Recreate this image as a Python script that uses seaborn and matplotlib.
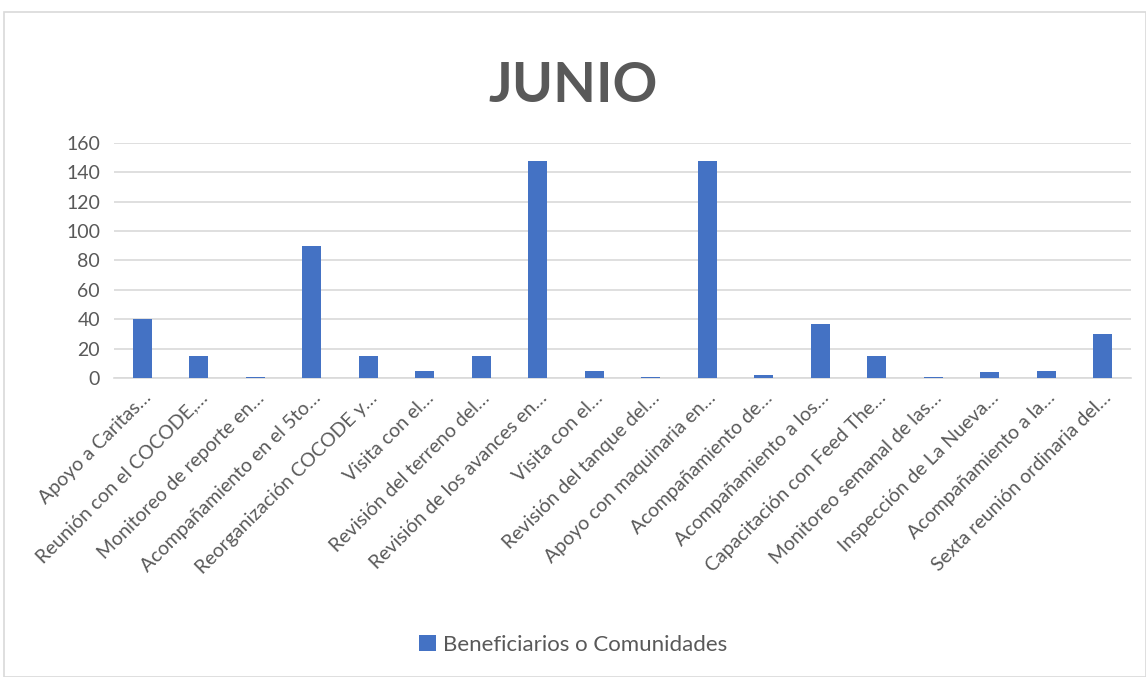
import matplotlib
matplotlib.use("Agg")
import matplotlib.pyplot as plt
import seaborn as sns
import pandas as pd
from matplotlib.patches import Patch

categories = [
    "Apoyo a Caritas…",
    "Reunión con el COCODE,…",
    "Monitoreo de reporte en…",
    "Acompañamiento en el 5to…",
    "Reorganización COCODE y…",
    "Visita con el…",
    "Revisión del terreno del…",
    "Revisión de los avances en…",
    "Visita con el…",
    "Revisión del tanque del…",
    "Apoyo con maquinaria en…",
    "Acompañamiento de…",
    "Acompañamiento a los…",
    "Capacitación con Feed The…",
    "Monitoreo semanal de las…",
    "Inspección de La Nueva…",
    "Acompañamiento a la…",
    "Sexta reunión ordinaria del…",
]
values = [40, 15, 1, 90, 15, 5, 15, 148, 5, 1, 148, 2, 37, 15, 1, 4, 5, 30]
series_name = "Beneficiarios o Comunidades"
title = "JUNIO"
yticks = [0, 20, 40, 60, 80, 100, 120, 140, 160]

sns.set_theme(style="white")
plt.rcParams['font.family'] = ['Lato', 'DejaVu Sans']

bar_color = "#4472C4"
text_color = "#595959"

df = pd.DataFrame({"pos": [str(i) for i in range(len(categories))], "val": values})

fig = plt.figure(figsize=(11.46, 6.77), dpi=100)
ax = fig.add_axes([114/1146, 1 - 378/677, (1131-114)/1146, (378-143)/677])

sns.barplot(data=df, x="pos", y="val", color=bar_color, width=0.34, ax=ax,
            saturation=1, linewidth=0, zorder=3)

ax.set_ylim(0, 160)
ax.set_yticks(yticks)
ax.set_xlim(-0.5, len(categories) - 0.5)
ax.yaxis.grid(True, color="#D9D9D9", linewidth=1.2, zorder=0)
ax.set_axisbelow(True)
for s in ["top", "right", "left"]:
    ax.spines[s].set_visible(False)
ax.spines["bottom"].set_color("#D9D9D9")
ax.spines["bottom"].set_linewidth(1.2)
ax.spines["bottom"].set_zorder(1)

ax.set_xticks(range(len(categories)))
ax.set_xticklabels(categories, rotation=45, ha="right", rotation_mode="anchor",
                   fontsize=14, color=text_color)
ax.tick_params(axis="x", length=0, pad=8)
ax.tick_params(axis="y", length=0, pad=10, labelsize=14, labelcolor=text_color)
ax.set_xlabel("")
ax.set_ylabel("")

fig.text(0.5, 1 - 86/677, title, ha="center", va="center", fontsize=40,
         fontweight="bold", color=text_color)

handles = [Patch(facecolor=bar_color, edgecolor="none", label=series_name)]
fig.legend(handles=handles, loc="center", bbox_to_anchor=(0.5, 1 - 645/677),
           frameon=False, fontsize=16, labelcolor=text_color,
           handlelength=0.75, handleheight=0.75, handletextpad=0.3)

# outer chart border
border = plt.Rectangle((4/1146, 0.0), 1 - 4/1146, 1 - 12/677, transform=fig.transFigure,
                       fill=False, edgecolor="#D9D9D9", linewidth=1.2)
fig.add_artist(border)

fig.savefig("out.png", dpi=100)
